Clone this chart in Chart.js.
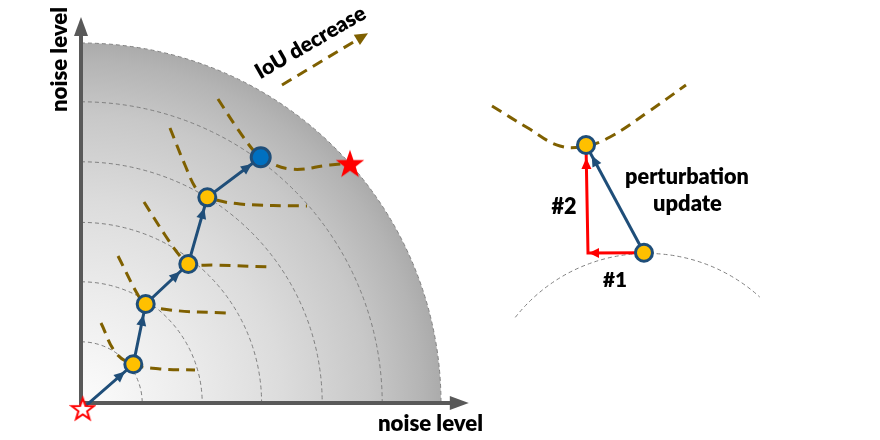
<!DOCTYPE html>
<html>
<head>
<meta charset="utf-8">
<script src="https://cdn.jsdelivr.net/npm/chart.js@4.4.1/dist/chart.umd.min.js"></script>
<style>
  html, body { margin: 0; padding: 0; background: #fff; }
  #wrap { width: 880px; height: 440px; }
</style>
</head>
<body>
<div id="wrap"><canvas id="chart"></canvas></div>
<script>
// units: one ring of noise level = 1

// rings of equal noise level around the clean image
const ringRadii = [1.02, 2.02, 3.01, 4.02, 5.02, 6.0];

// axes (line ends at the arrowhead base)
const xAxisLine = [[-0.03, 0], [6.18, 0]];
const yAxisLine = [[0, -0.03], [0, 6.15]];

// attack path
const startStar = [[0.03, -0.09]];
const stepPoints = [[0.872, 0.645], [1.078, 1.65], [1.788, 2.317], [2.105, 3.428]];
const finalPoint = [[2.995, 4.095]];
const targetStar = [[4.483, 3.995]];
const attackPath = [[0.03, -0.09], [0.872, 0.645], [1.078, 1.65], [1.788, 2.317], [2.105, 3.428], [2.995, 4.095]];

// IoU contours through each step
const contour1 = [[0.333, 1.333], [0.583, 0.833], [0.872, 0.645], [1.317, 0.567], [1.9, 0.55]];
const contour2 = [[0.617, 2.45], [0.95, 1.8], [1.078, 1.65], [1.483, 1.55], [2.433, 1.5]];
const contour3 = [[1.05, 3.35], [1.4, 2.8], [1.65, 2.45], [1.788, 2.317], [2.233, 2.3], [3.15, 2.267]];
const contour4 = [[1.483, 4.583], [1.733, 3.967], [1.933, 3.55], [2.105, 3.428], [2.65, 3.317], [3.767, 3.283]];
const contour5 = [[2.283, 5.067], [2.6, 4.583], [2.867, 4.217], [2.995, 4.095], [3.483, 3.9], [4.15, 3.967], [4.7, 4.017]];
const iouArrow = [[3.35, 5.3], [4.612, 6.06]];

// inset: one perturbation update
const insetContour = [[6.85, 4.95], [7.45, 4.583], [7.983, 4.283], [8.417, 4.283], [8.817, 4.433], [9.45, 4.85], [10.083, 5.3]];
const insetUpper = [[8.417, 4.3]];
const insetLower = [[9.383, 2.505]];
const insetUpdate = [[9.383, 2.505], [8.417, 4.3]];
const insetSteps = [[9.383, 2.505], [8.45, 2.5], [8.417, 4.3]];
const insetArcCenter = [9.433, -0.3];
const insetArcRadius = 2.793;
const insetArcAngles = [141.8, 47.7];

const labelText = ['noise level', 'noise level', 'IoU decrease', 'perturbation', 'update', '#1', '#2'];

const xy = arr => arr.map(p => ({ x: p[0], y: p[1] }));

function makeStar(size, fill, stroke, lw) {
  const c = document.createElement('canvas');
  c.width = c.height = size;
  const g = c.getContext('2d');
  const cx = size / 2, cy = size / 2 + size * 0.05;
  const R = size / 2 - lw, r = R * 0.4;
  g.beginPath();
  for (let i = 0; i < 10; i++) {
    const a = -Math.PI / 2 + i * Math.PI / 5;
    const rr = i % 2 ? r : R;
    g.lineTo(cx + rr * Math.cos(a), cy + rr * Math.sin(a));
  }
  g.closePath();
  g.fillStyle = fill;
  g.fill();
  if (stroke) {
    g.lineWidth = lw;
    g.strokeStyle = stroke;
    g.stroke();
  }
  return c;
}

const BROWN = '#7F6000';
const NAVY = '#1F4E79';
const AXIS = '#595959';

function dashed(data) {
  return {
    data: xy(data), showLine: true, tension: 0.4, borderColor: BROWN, borderWidth: 3,
    borderDash: [11, 7], pointRadius: 0, fill: false
  };
}

// gradient quarter disc and the grey rings
const backdrop = {
  id: 'backdrop',
  beforeDatasetsDraw(chart) {
    const { ctx, scales: { x, y } } = chart;
    const ox = x.getPixelForValue(0), oy = y.getPixelForValue(0);
    const px = v => Math.abs(x.getPixelForValue(v) - ox);
    const R = px(ringRadii[ringRadii.length - 1]);
    ctx.save();
    const grad = ctx.createRadialGradient(ox, oy, 0, ox, oy, R);
    grad.addColorStop(0, '#fcfcfc');
    grad.addColorStop(0.3, '#ececec');
    grad.addColorStop(0.56, '#dcdcdc');
    grad.addColorStop(0.8, '#c8c8c8');
    grad.addColorStop(0.95, '#b4b4b4');
    grad.addColorStop(1, '#ababab');
    ctx.beginPath();
    ctx.moveTo(ox, oy);
    ctx.arc(ox, oy, R, -Math.PI / 2, 0);
    ctx.closePath();
    ctx.fillStyle = grad;
    ctx.fill();

    ctx.setLineDash([4, 3]);
    ctx.lineWidth = 1;
    ctx.strokeStyle = '#808080';
    ringRadii.forEach(r => {
      ctx.beginPath();
      ctx.arc(ox, oy, px(r), -Math.PI / 2, 0);
      ctx.stroke();
    });
    // inset arc
    const cx = x.getPixelForValue(insetArcCenter[0]), cy = y.getPixelForValue(insetArcCenter[1]);
    ctx.beginPath();
    ctx.arc(cx, cy, px(insetArcRadius), -insetArcAngles[0] * Math.PI / 180, -insetArcAngles[1] * Math.PI / 180);
    ctx.stroke();
    ctx.restore();
  }
};

function drawHead(ctx, tx, ty, ux, uy, len, half, color) {
  const bx = tx - ux * len, by = ty - uy * len;
  ctx.beginPath();
  ctx.moveTo(tx, ty);
  ctx.lineTo(bx - uy * half, by + ux * half);
  ctx.lineTo(bx + uy * half, by - ux * half);
  ctx.closePath();
  ctx.fillStyle = color;
  ctx.fill();
}

// arrowheads on datasets that ask for them
const arrowHeads = {
  id: 'arrowHeads',
  afterDatasetsDraw(chart) {
    const ctx = chart.ctx;
    ctx.save();
    chart.data.datasets.forEach((ds, i) => {
      if (!ds.heads) return;
      const pts = chart.getDatasetMeta(i).data;
      ds.heads.forEach(h => {
        const a = pts[h.at - 1], b = pts[h.at];
        const dx = b.x - a.x, dy = b.y - a.y, d = Math.hypot(dx, dy);
        const ux = dx / d, uy = dy / d;
        drawHead(ctx, b.x + ux * h.shift, b.y + uy * h.shift, ux, uy, h.len, h.half, ds.borderColor);
      });
    });
    ctx.restore();
  }
};

// text is sized so that it spans the same width as in the original figure
const textLabels = {
  id: 'textLabels',
  afterDatasetsDraw(chart, args, opts) {
    const { ctx, scales: { x, y } } = chart;
    ctx.save();
    ctx.fillStyle = '#000';
    ctx.textAlign = 'center';
    ctx.textBaseline = 'middle';
    opts.items.forEach(it => {
      const text = labelText[it.i];
      ctx.font = opts.weight + ' 22px ' + opts.family;
      const size = 22 * it.width / ctx.measureText(text).width;
      ctx.save();
      ctx.translate(x.getPixelForValue(it.at[0]), y.getPixelForValue(it.at[1]));
      ctx.rotate(it.rot * Math.PI / 180);
      ctx.font = opts.weight + ' ' + size.toFixed(1) + 'px ' + opts.family;
      ctx.fillText(text, 0, 0);
      ctx.restore();
    });
    ctx.restore();
  }
};

new Chart(document.getElementById('chart'), {
  type: 'scatter',
  data: {
    datasets: [
      { data: xy(startStar), pointStyle: makeStar(27, '#ffffff', '#ff0000', 2) },
      { data: xy(targetStar), pointStyle: makeStar(30, '#ff0000', null, 0) },
      { data: xy(stepPoints), pointRadius: 8.5, borderWidth: 3, backgroundColor: '#FFC000', borderColor: NAVY },
      { data: xy(finalPoint), pointRadius: 9.5, borderWidth: 3, backgroundColor: '#0070C0', borderColor: NAVY },
      { data: xy(insetUpper), pointRadius: 8.5, borderWidth: 3, backgroundColor: '#FFC000', borderColor: NAVY },
      { data: xy(insetLower), pointRadius: 8.5, borderWidth: 3, backgroundColor: '#FFC000', borderColor: NAVY },
      {
        data: xy(attackPath), showLine: true, borderColor: NAVY, borderWidth: 3, pointRadius: 0,
        heads: [1, 2, 3, 4, 5].map(k => ({ at: k, shift: -11, len: 11, half: 5 }))
      },
      {
        data: xy(insetUpdate), showLine: true, borderColor: NAVY, borderWidth: 3, pointRadius: 0,
        heads: [{ at: 1, shift: -12, len: 11, half: 5 }]
      },
      {
        data: xy(insetSteps), showLine: true, borderColor: '#FF0000', borderWidth: 3, pointRadius: 0,
        heads: [{ at: 1, shift: -1, len: 10, half: 5 }, { at: 2, shift: -13, len: 11, half: 5 }]
      },
      dashed(contour1), dashed(contour2), dashed(contour3), dashed(contour4), dashed(contour5),
      dashed(insetContour),
      Object.assign(dashed(iouArrow), { tension: 0, heads: [{ at: 1, shift: 12, len: 13, half: 6 }] }),
      {
        data: xy(xAxisLine), showLine: true, borderColor: AXIS, borderWidth: 4, pointRadius: 0,
        heads: [{ at: 1, shift: 17, len: 19, half: 7 }]
      },
      {
        data: xy(yAxisLine), showLine: true, borderColor: AXIS, borderWidth: 4, pointRadius: 0,
        heads: [{ at: 1, shift: 17, len: 19, half: 7 }]
      }
    ]
  },
  options: {
    responsive: true,
    maintainAspectRatio: false,
    animation: false,
    events: [],
    layout: { padding: 0, autoPadding: false },
    scales: {
      x: { type: 'linear', min: -1.35, max: 13.3167, display: false },
      y: { type: 'linear', min: -0.6167, max: 6.7167, display: false }
    },
    plugins: {
      legend: { display: false },
      tooltip: { enabled: false },
      textLabels: {
        family: 'Lato, "Open Sans", sans-serif',
        weight: '800',
        items: [
          { i: 0, at: [5.825, -0.355], rot: 0, width: 105 },
          { i: 1, at: [-0.36, 5.725], rot: -90, width: 105 },
          { i: 2, at: [3.825, 6.008], rot: -30, width: 124 },
          { i: 3, at: [10.1, 3.762], rot: 0, width: 124 },
          { i: 4, at: [10.108, 3.317], rot: 0, width: 69 },
          { i: 5, at: [8.9, 2.05], rot: 0, width: 24 },
          { i: 6, at: [8.05, 3.267], rot: 0, width: 25 }
        ]
      }
    }
  },
  plugins: [backdrop, arrowHeads, textLabels]
});
</script>
</body>
</html>
